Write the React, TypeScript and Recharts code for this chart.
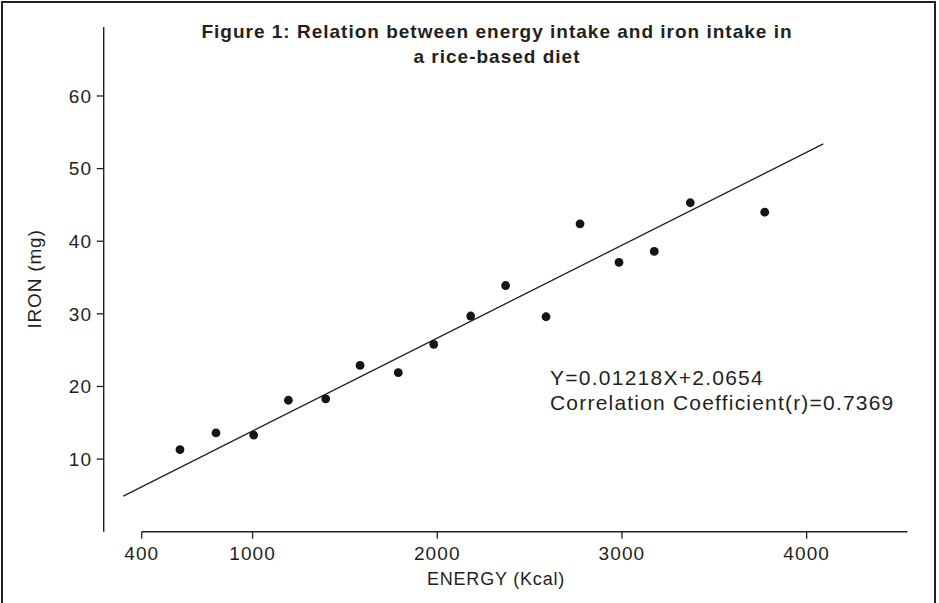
import React from 'react';
import { ScatterChart, Scatter, XAxis, YAxis, ReferenceLine } from 'recharts';

const energy = [607, 802, 1006, 1194, 1396, 1582, 1789, 1981, 2181, 2370, 2589, 2773, 2984, 3175, 3370, 3773];
const iron = [11.3, 13.6, 13.3, 18.1, 18.3, 22.9, 21.9, 25.8, 29.7, 33.9, 29.6, 42.4, 37.1, 38.6, 45.3, 44.0];
const xTicks = [400, 1000, 2000, 3000, 4000];
const yTicks = [10, 20, 30, 40, 50, 60];
const fitEnergy = [300, 4090];
const fitIron = [4.9, 53.4];
const xDomain: [number, number] = [194, 4546];
const yDomain: [number, number] = [0, 69.5];
const titleLines = ['Figure 1: Relation between energy intake and iron intake in', 'a rice-based diet'];
const equationLines = ['Y=0.01218X+2.0654', 'Correlation Coefficient(r)=0.7369'];
const xTitle = 'ENERGY (Kcal)';
const yTitle = 'IRON (mg)';

const FONT = '"Liberation Sans", Arial, Helvetica, sans-serif';
const INK = '#231f20';

const points = energy.map((e, i) => ({ x: e, y: iron[i] }));

const XTick = (props: any) => {
  const { x, y, payload } = props;
  return (
    <text x={x} y={y} dy="0.71em" textAnchor="middle" fill={INK} fontSize={19} fontFamily={FONT} style={{ letterSpacing: '1.1px' }}>
      {payload.value}
    </text>
  );
};

const YTick = (props: any) => {
  const { x, y, payload } = props;
  return (
    <text x={x} y={y} dy="0.355em" textAnchor="end" fill={INK} fontSize={19} fontFamily={FONT} style={{ letterSpacing: '1.1px' }}>
      {payload.value}
    </text>
  );
};

const Dot = (props: any) => {
  const { cx, cy } = props;
  if (cx == null || cy == null) return null;
  return <circle cx={cx} cy={cy} r={4.4} fill="#151515" />;
};

export default function App() {
  return (
    <div style={{ position: 'absolute', left: 0, top: 0, width: 939, height: 603, background: '#fff', overflow: 'hidden' }}>
      <ScatterChart width={939} height={603} margin={{ top: 27, right: 31.5, left: 0, bottom: 0 }}>
        <XAxis
          type="number"
          dataKey="x"
          domain={xDomain}
          ticks={xTicks}
          allowDataOverflow
          axisLine={false}
          tickLine={{ stroke: INK, strokeWidth: 1.3 }}
          tickSize={7}
          tickMargin={8}
          height={71.3}
          tick={<XTick />}
        />
        <YAxis
          type="number"
          dataKey="y"
          domain={yDomain}
          ticks={yTicks}
          allowDataOverflow
          axisLine={{ stroke: INK, strokeWidth: 1.4 }}
          tickLine={{ stroke: INK, strokeWidth: 1.3 }}
          tickSize={7}
          tickMargin={4.5}
          width={103.7}
          tick={<YTick />}
        />
        <ReferenceLine
          segment={[{ x: xTicks[0], y: yDomain[0] }, { x: xDomain[1], y: yDomain[0] }]}
          stroke={INK}
          strokeWidth={1.5}
          ifOverflow="visible"
        />
        <ReferenceLine
          segment={[{ x: fitEnergy[0], y: fitIron[0] }, { x: fitEnergy[1], y: fitIron[1] }]}
          stroke={INK}
          strokeWidth={1.3}
          ifOverflow="visible"
        />
        <Scatter data={points} shape={<Dot />} isAnimationActive={false} />
      </ScatterChart>
      <svg width={939} height={603} style={{ position: 'absolute', left: 0, top: 0, pointerEvents: 'none' }}>
        <text x={497} y={38} textAnchor="middle" fontSize={19} fontWeight="bold" fill={INK} fontFamily={FONT} style={{ letterSpacing: '1px' }}>
          {titleLines[0]}
        </text>
        <text x={497} y={63} textAnchor="middle" fontSize={19} fontWeight="bold" fill={INK} fontFamily={FONT} style={{ letterSpacing: '1px' }}>
          {titleLines[1]}
        </text>
        <text x={550} y={385} fontSize={21} fill={INK} fontFamily={FONT} style={{ letterSpacing: '1.25px' }}>
          {equationLines[0]}
        </text>
        <text x={550} y={410} fontSize={21} fill={INK} fontFamily={FONT} style={{ letterSpacing: '1.2px' }}>
          {equationLines[1]}
        </text>
        <text x={496} y={585} textAnchor="middle" fontSize={18} fill={INK} fontFamily={FONT} style={{ letterSpacing: '0.8px' }}>
          {xTitle}
        </text>
        <text x={40.5} y={279} textAnchor="middle" fontSize={19} fill={INK} fontFamily={FONT} transform="rotate(-90 40.5 279)" style={{ letterSpacing: '0.8px' }}>
          {yTitle}
        </text>
      </svg>
      <div style={{ position: 'absolute', left: 1, top: 1, width: 935, height: 640, border: `2px solid ${INK}`, boxSizing: 'border-box' }} />
    </div>
  );
}
